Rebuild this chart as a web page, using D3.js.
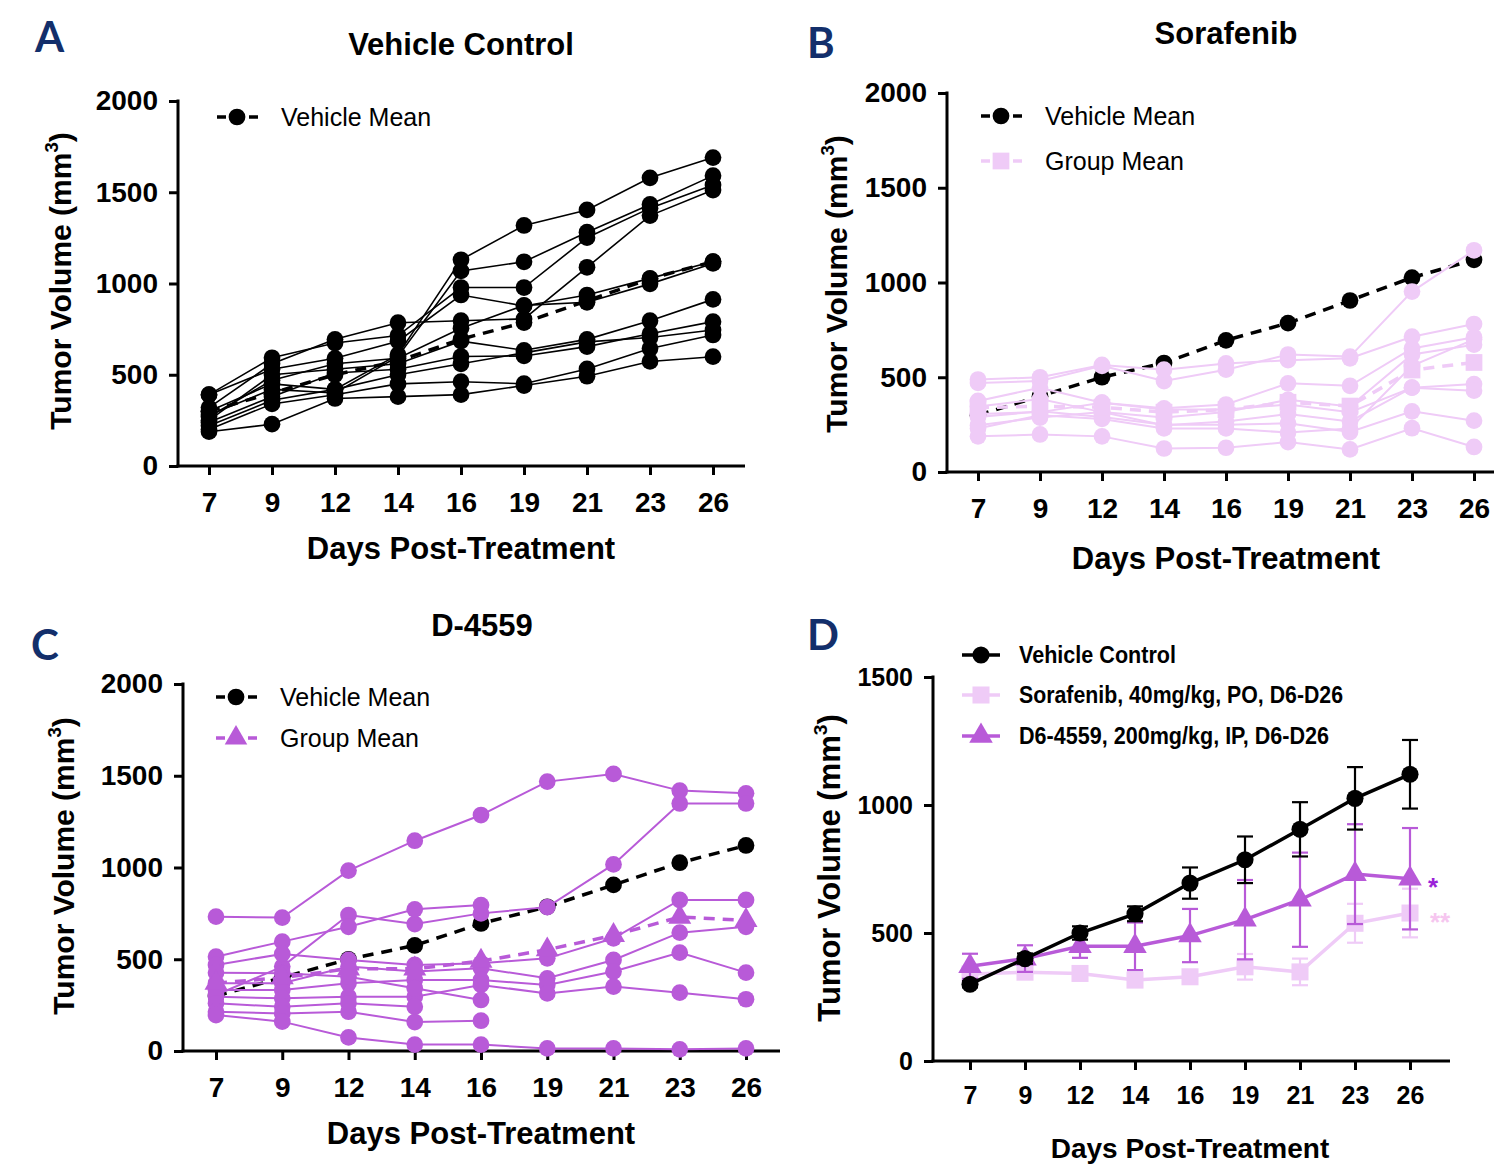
<!DOCTYPE html>
<html>
<head>
<meta charset="utf-8">
<script src="https://cdn.jsdelivr.net/npm/d3@7"></script>
<style>
  body { margin: 0; background: #fff; }
  text { font-family: "Liberation Sans", Arial, sans-serif; }
</style>
</head>
<body>
<svg id="fig" width="1494" height="1166"></svg>
<script>
// x categories (days post-treatment)
const days = ["7", "9", "12", "14", "16", "19", "21", "23", "26"];
const yTicksBig = [0, 500, 1000, 1500, 2000];
const yTicksD = [0, 500, 1000, 1500];

// group means + SEM (panel D)
const vehicleMean = [300, 400, 500, 575, 695, 786, 905, 1026, 1120];
const vehicleSem = [12, 20, 26, 29, 61, 91, 106, 122, 134];
const sorafenibMean = [340, 347, 342, 316, 329, 368, 348, 538, 578];
const sorafenibSem = [15, 15, 20, 25, 20, 50, 52, 76, 95];
const d4559Mean = [370, 400, 448, 448, 490, 552, 630, 730, 712];
const d4559Sem = [49, 52, 45, 93, 104, 155, 184, 195, 198];

// individual animals, one row per mouse (null = no measurement)
const vehicleMice = [
  [300, 450, 420, 610, 1130, 1318, 1403, 1579, 1690],
  [280, 420, 400, 600, 1069, 1119, 1281, 1433, 1591],
  [391, 593, 674, 715, 978, 978, 1251, 1413, 1540],
  [320, 560, 694, 785, 796, 806, 1089, 1372, 1512],
  [391, 530, 590, 684, 937, 877, 937, 1028, 1120],
  [270, 470, 560, 590, 755, 880, 897, 998, 1110],
  [250, 500, 530, 560, 684, 634, 694, 796, 913],
  [240, 380, 510, 530, 600, 603, 654, 725, 791],
  [220, 360, 420, 500, 560, 620, 680, 704, 745],
  [200, 340, 390, 450, 462, 451, 532, 644, 718],
  [188, 229, 370, 380, 391, 441, 492, 573, 599]
];
const sorafenibMice = [
  [470, 480, 560, 480, 540, 620, 609, 952, 1170],
  [488, 500, 565, 540, 573, 590, 600, 714, 781],
  [375, 445, 366, 336, 356, 468, 455, 652, 711],
  [346, 385, 316, 287, 316, 381, 346, 620, 672],
  [306, 316, 366, 330, 330, 356, 316, 445, 464],
  [247, 287, 316, 247, 267, 306, 267, 445, 429],
  [290, 320, 290, 250, 250, 257, 211, 320, 271],
  [188, 198, 188, 124, 128, 158, 119, 231, 132],
  [230, 300, 280, 230, 230, 208, 230, 560, 700]
];
const d4559Mice = [
  [732, 727, 983, 1146, 1286, 1468, 1510, 1419, 1404],
  [305, 460, 741, 692, 750, 784, 1017, 1349, 1349],
  [514, 596, 677, 772, 795, null, null, null, null],
  [469, 529, 496, 469, 478, 505, 614, 823, 823],
  [369, 369, 460, 433, 451, 396, 496, 645, 677],
  [332, 332, 369, 387, 387, 360, 433, 536, 427],
  [296, 287, 296, 296, 360, 314, 351, 318, 282],
  [427, 424, 405, 342, 278, null, null, null, null],
  [260, 241, 260, 241, null, null, null, null, null],
  [214, 205, 214, 158, 165, null, null, null, null],
  [196, 160, 74, 35, 35, 14, 14, 9, 14]
];

const black = "#000";
const pink = "#efcbf7";
const purple = "#b85ad8";
const navy = "#132f6b";

const svg = d3.select("#fig");

function marker(type, size) {
  const t = type === "square" ? d3.symbolSquare : type === "triangle" ? d3.symbolTriangle : d3.symbolCircle;
  return d3.symbol().type(t).size(size)();
}

// axes in the Prism style: thick lines, outward ticks, x axis running past last tick
function drawAxes(p, x, y, yTicks, tickFont) {
  const g = svg.append("g");
  const ya = g.append("g").attr("transform", `translate(${p.ax},0)`)
    .call(d3.axisLeft(y).tickValues(yTicks).tickSize(9).tickPadding(11).tickFormat(d3.format("d")));
  const xa = g.append("g").attr("transform", `translate(0,${p.bottom})`)
    .call(d3.axisBottom(x).tickSize(9).tickPadding(p.xPad || 17));
  [ya, xa].forEach(a => {
    a.select(".domain").remove();
    a.selectAll(".tick line").attr("stroke", "#000").attr("stroke-width", 3);
    a.selectAll(".tick text").attr("fill", "#000")
      .style("font-size", tickFont + "px").style("font-weight", "bold");
  });
  g.append("line").attr("x1", p.ax).attr("x2", p.ax)
    .attr("y1", y(yTicks[yTicks.length - 1]) - 1.5).attr("y2", p.bottom + 1.5)
    .attr("stroke", "#000").attr("stroke-width", 3);
  g.append("line").attr("x1", p.ax - 1.5).attr("x2", p.end)
    .attr("y1", p.bottom).attr("y2", p.bottom)
    .attr("stroke", "#000").attr("stroke-width", 3);

  // axis titles
  const yl = g.append("text")
    .attr("transform", `translate(${p.ylx},${p.yly}) rotate(-90)`)
    .attr("text-anchor", "middle")
    .style("font-size", p.yFont + "px").style("font-weight", "bold");
  yl.append("tspan").text("Tumor Volume (mm");
  yl.append("tspan").attr("dy", -13).style("font-size", (p.yFont * 0.62) + "px").text("3");
  yl.append("tspan").attr("dy", 13).text(")");
  g.append("text").attr("x", p.xlx).attr("y", p.xly).attr("text-anchor", "middle")
    .style("font-size", p.xFont + "px").style("font-weight", "bold")
    .text("Days Post-Treatment");
}

function panelHead(p) {
  svg.append("text").attr("x", p.letter[0]).attr("y", p.letter[1])
    .attr("fill", navy).style("font-family", "Lato, 'Open Sans', sans-serif")
    .style("font-size", "42px").style("font-weight", "bold").text(p.id);
  if (p.title) {
    svg.append("text").attr("x", p.title[0]).attr("y", p.title[1]).attr("text-anchor", "middle")
      .style("font-size", "31px").style("font-weight", "bold").text(p.titleText);
  }
}

function seriesPoints(vals) {
  return vals.map((v, i) => ({ day: days[i], v })).filter(d => d.v != null);
}

// spaghetti panel: individual mice + group mean + vehicle mean
function spaghetti(p) {
  panelHead(p);
  const x = d3.scalePoint().domain(days).range([p.first, p.last]);
  const y = d3.scaleLinear().domain([0, 2000]).range([p.bottom, p.top]);
  drawAxes(p, x, y, yTicksBig, 28);

  const line = d3.line().defined(d => d.v != null).x(d => x(d.day)).y(d => y(d.v));

  function drawMean(vals, color, shape, size) {
    const pts = seriesPoints(vals);
    svg.append("path").datum(pts).attr("d", line).attr("fill", "none")
      .attr("stroke", color).attr("stroke-width", 3.5).attr("stroke-dasharray", "11,8");
    svg.selectAll(null).data(pts).enter().append("path")
      .attr("transform", d => `translate(${x(d.day)},${y(d.v)})`)
      .attr("d", marker(shape, size)).attr("fill", color);
  }

  if (p.vehicleFirst) drawMean(vehicleMean, black, "circle", 220);

  p.mice.forEach(m => {
    const pts = seriesPoints(m);
    svg.append("path").datum(pts).attr("d", line).attr("fill", "none")
      .attr("stroke", p.color).attr("stroke-width", p.lineW);
  });
  p.mice.forEach(m => {
    svg.selectAll(null).data(seriesPoints(m)).enter().append("path")
      .attr("transform", d => `translate(${x(d.day)},${y(d.v)})`)
      .attr("d", marker("circle", 220)).attr("fill", p.color);
  });

  if (p.groupMean) drawMean(p.groupMean, p.color, p.groupShape, p.groupShape === "square" ? 280 : 230);
  if (!p.vehicleFirst) drawMean(vehicleMean, black, "circle", 220);

  // legend
  p.legend.forEach((l, i) => {
    const ly = p.legY[i];
    svg.append("line").attr("x1", p.legX).attr("x2", p.legX + 42).attr("y1", ly).attr("y2", ly)
      .attr("stroke", l.color).attr("stroke-width", 3.5).attr("stroke-dasharray", "9,7");
    svg.append("path").attr("transform", `translate(${p.legX + 20},${ly})`)
      .attr("d", marker(l.shape, l.shape === "square" ? 280 : 220)).attr("fill", l.color);
    svg.append("text").attr("x", p.legX + 64).attr("y", ly + 9)
      .style("font-size", "25px").text(l.label);
  });
}

spaghetti({
  id: "A", letter: [35, 52], title: [461, 55], titleText: "Vehicle Control",
  ax: 178, top: 101, bottom: 466, first: 209, last: 713, end: 745,
  ylx: 71, yly: 281, xlx: 461, xly: 559, yFont: 30, xFont: 31,
  mice: vehicleMice, color: black, lineW: 1.6,
  legX: 217, legY: [117],
  legend: [{ label: "Vehicle Mean", color: black, shape: "circle" }]
});

spaghetti({
  id: "B", letter: [807, 58], title: [1226, 44], titleText: "Sorafenib",
  ax: 947, top: 93, bottom: 472, first: 978, last: 1474, end: 1494,
  ylx: 847, yly: 284, xlx: 1226, xly: 569, yFont: 30, xFont: 31,
  mice: sorafenibMice, color: pink, lineW: 2, vehicleFirst: true,
  groupMean: sorafenibMean, groupShape: "square",
  legX: 981, legY: [116, 161],
  legend: [{ label: "Vehicle Mean", color: black, shape: "circle" },
           { label: "Group Mean", color: pink, shape: "square" }]
});

spaghetti({
  id: "C", letter: [31, 660], title: [482, 636], titleText: "D-4559",
  ax: 183, top: 684, bottom: 1051, first: 216, last: 746, end: 780,
  ylx: 74, yly: 866, xlx: 481, xly: 1144, yFont: 30, xFont: 31,
  mice: d4559Mice, color: purple, lineW: 2, vehicleFirst: true,
  groupMean: d4559Mean, groupShape: "triangle",
  legX: 216, legY: [697, 738],
  legend: [{ label: "Vehicle Mean", color: black, shape: "circle" },
           { label: "Group Mean", color: purple, shape: "triangle" }]
});

// panel D: group means with SEM error bars
(function () {
  const p = {
    id: "D", letter: [807, 650],
    ax: 933, top: 677, bottom: 1061, first: 970, last: 1410, end: 1450,
    ylx: 840, yly: 868, xlx: 1190, xly: 1158, yFont: 31, xFont: 28, xPad: 16
  };
  panelHead(p);
  const x = d3.scalePoint().domain(days).range([p.first, p.last]);
  const y = d3.scaleLinear().domain([0, 1500]).range([p.bottom, p.top]);
  drawAxes(p, x, y, yTicksD, 25);

  const groups = [
    { mean: sorafenibMean, sem: sorafenibSem, color: pink, shape: "square", size: 290,
      label: "Sorafenib, 40mg/kg, PO, D6-D26", w: 324 },
    { mean: d4559Mean, sem: d4559Sem, color: purple, shape: "triangle", size: 240,
      label: "D6-4559, 200mg/kg, IP, D6-D26", w: 310 },
    { mean: vehicleMean, sem: vehicleSem, color: black, shape: "circle", size: 230,
      label: "Vehicle Control", w: 157 }
  ];
  const line = d3.line().x(d => x(d.day)).y(d => y(d.v));

  groups.forEach(gr => {
    const pts = gr.mean.map((v, i) => ({ day: days[i], v, e: gr.sem[i] }));
    const eb = svg.append("g").attr("stroke", gr.color).attr("stroke-width", 2.2);
    pts.forEach(d => {
      const cx = x(d.day);
      eb.append("line").attr("x1", cx).attr("x2", cx).attr("y1", y(d.v - d.e)).attr("y2", y(d.v + d.e));
      [d.v - d.e, d.v + d.e].forEach(t => {
        eb.append("line").attr("x1", cx - 8).attr("x2", cx + 8).attr("y1", y(t)).attr("y2", y(t));
      });
    });
    svg.append("path").datum(pts).attr("d", line).attr("fill", "none")
      .attr("stroke", gr.color).attr("stroke-width", 3.5);
    svg.selectAll(null).data(pts).enter().append("path")
      .attr("transform", d => `translate(${x(d.day)},${y(d.v)})`)
      .attr("d", marker(gr.shape, gr.size)).attr("fill", gr.color);
  });

  // significance marks
  svg.append("text").attr("x", 1428).attr("y", 896).attr("fill", "#9a22d8")
    .style("font-size", "26px").style("font-weight", "bold").text("*");
  svg.append("text").attr("x", 1430).attr("y", 931).attr("fill", "#f6c6ef")
    .style("font-size", "26px").style("font-weight", "bold").text("**");

  // legend (vehicle first); condensed lettering as in the original
  const legOrder = [groups[2], groups[0], groups[1]];
  const legY = [655, 695, 736];
  legOrder.forEach((gr, i) => {
    svg.append("line").attr("x1", 962).attr("x2", 1000).attr("y1", legY[i]).attr("y2", legY[i])
      .attr("stroke", gr.color).attr("stroke-width", 3.5);
    svg.append("path").attr("transform", `translate(981,${legY[i]})`)
      .attr("d", marker(gr.shape, gr.size)).attr("fill", gr.color);
    svg.append("text").attr("x", 1019).attr("y", legY[i] + 8)
      .attr("textLength", gr.w).attr("lengthAdjust", "spacingAndGlyphs")
      .style("font-size", "24px").style("font-weight", "bold").text(gr.label);
  });
})();
</script>
</body>
</html>
